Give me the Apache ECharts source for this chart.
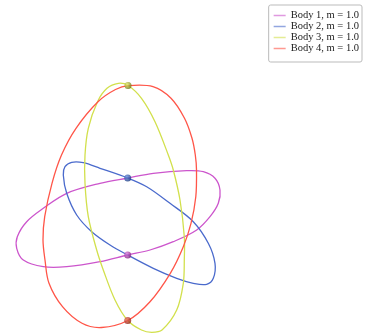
<!DOCTYPE html>
<html>
<head>
<meta charset="utf-8">
<script src="https://cdn.jsdelivr.net/npm/echarts@6/dist/echarts.min.js"></script>
<style>
  html, body { margin: 0; padding: 0; background: #fff; }
  #chart { width: 365px; height: 333px; }
</style>
</head>
<body>
<div id="chart"></div>
<script>
// orbit traces in screen pixels (x right, y down)
const body1Orbit = [
  [127.7, 255], [100, 261.7], [66.7, 266.7], [43.3, 266.7], [23.3, 260], [16.7, 248.3],
  [17.3, 236.7], [26.7, 221.7], [43.3, 208.3], [66.7, 193.3], [100, 183.3], [127.7, 178],
  [153.3, 173.3], [186.7, 170.7], [203.3, 171.7], [215, 178.3], [220, 190], [218.3, 203.3],
  [210, 216.7], [196.7, 230], [173.3, 241.7], [150, 250]
];
const body2Orbit = [
  [127.7, 178], [100, 168.3], [83.3, 162.7], [71.7, 162.3], [65, 166.7], [63.3, 175],
  [66.7, 193.3], [76.7, 215], [91.7, 231.7], [110, 245], [127.7, 255], [153.3, 268.3],
  [176.7, 278.3], [193.3, 283.3], [206.7, 284.3], [213.3, 278.3], [215, 263.3],
  [208.3, 243.3], [193.3, 221.7], [170, 203.3], [146.7, 186.7]
];
const body3Orbit = [
  [128, 85.5], [141.5, 98.3], [155, 121.7], [168.3, 155], [173.3, 170], [180, 200],
  [184.3, 236.7], [184.3, 260], [183.3, 283.3], [176.7, 310], [162, 330], [151.7, 332.3],
  [141.5, 330], [127.7, 320.5], [115, 300], [103.3, 270], [96.7, 250], [88.3, 216.7],
  [85, 183.3], [85, 155], [88.3, 128.3], [97.5, 101.7], [107, 88.3], [118.3, 83.3]
];
const body4Orbit = [
  [127.7, 320.5], [101.5, 327.5], [82, 323.3], [62.5, 306.7], [49, 283.3], [45, 260],
  [43, 240], [44.7, 216.7], [52, 183.3], [61.5, 155], [76, 128.3], [98, 101.7],
  [115.5, 89.5], [128.3, 85.7], [153, 86.7], [171, 98.3], [184.5, 118.3], [192, 138.3],
  [195.3, 155], [196.5, 170], [195.8, 196.7], [191, 223.3], [183.3, 246.7], [170.3, 273.3],
  [150, 301.7]
];

// current body positions
const bodyPositions = [[127.7, 255], [127.7, 178], [128, 85.5], [127.7, 320.5]];

const names = ["Body 1, m = 1.0", "Body 2, m = 1.0", "Body 3, m = 1.0", "Body 4, m = 1.0"];
const orbits = [body1Orbit, body2Orbit, body3Orbit, body4Orbit];
const lineColors = ["#cc55cc", "#4a6acc", "#d2e04c", "#ff5548"];
const ballLight = ["#e080e0", "#6a90e0", "#e8f070", "#f07060"];
const ballDark = ["#802080", "#1a3a80", "#6a7010", "#902010"];

const chart = echarts.init(document.getElementById("chart"), null, { renderer: "canvas" });

// closed smooth curve through the projected points
function loopPath(pts) {
  const n = pts.length;
  const tangent = pts.map((p, i) => {
    const a = pts[(i - 1 + n) % n], b = pts[(i + 1) % n];
    const dx = b[0] - a[0], dy = b[1] - a[1];
    const len = Math.hypot(dx, dy) || 1;
    return [dx / len, dy / len];
  });
  let d = `M${pts[0][0]},${pts[0][1]}`;
  for (let i = 0; i < n; i++) {
    const p = pts[i], q = pts[(i + 1) % n];
    const seg = Math.hypot(q[0] - p[0], q[1] - p[1]) / 3;
    const t0 = tangent[i], t1 = tangent[(i + 1) % n];
    d += ` C${p[0] + t0[0] * seg},${p[1] + t0[1] * seg} ${q[0] - t1[0] * seg},${q[1] - t1[1] * seg} ${q[0]},${q[1]}`;
  }
  return d + " Z";
}

const orbitSeries = orbits.map((orbit, i) => ({
  name: names[i],
  type: "custom",
  data: [0],
  z: 2 + i,
  itemStyle: { color: lineColors[i] },
  renderItem(params, api) {
    const pts = orbit.map((p) => api.coord(p));
    return {
      type: "path",
      shape: { pathData: loopPath(pts) },
      style: { stroke: lineColors[i], fill: null, lineWidth: 1.3 }
    };
  }
}));

const bodySeries = bodyPositions.map((p, i) => ({
  type: "scatter",
  data: [p],
  symbolSize: 7,
  z: 10,
  itemStyle: {
    color: {
      type: "radial", x: 0.35, y: 0.35, r: 0.7,
      colorStops: [
        { offset: 0, color: ballLight[i] },
        { offset: 1, color: ballDark[i] }
      ]
    }
  }
}));

chart.setOption({
  animation: false,
  grid: { left: 0, right: 0, top: 0, bottom: 0 },
  xAxis: { type: "value", min: 0, max: 365, show: false },
  yAxis: { type: "value", min: 0, max: 333, inverse: true, show: false },
  legend: {
    data: names,
    orient: "vertical",
    right: 3,
    top: 5,
    padding: [5, 3, 8, 5],
    icon: "rect",
    itemWidth: 12,
    itemHeight: 1.5,
    itemGap: 0,
    borderColor: "#bbbbbb",
    borderWidth: 1,
    borderRadius: 2,
    itemStyle: { opacity: 0.6 },
    textStyle: { fontFamily: "Liberation Serif", fontSize: 10.5, lineHeight: 11, color: "#222" }
  },
  series: orbitSeries.concat(bodySeries)
});
</script>
</body>
</html>
